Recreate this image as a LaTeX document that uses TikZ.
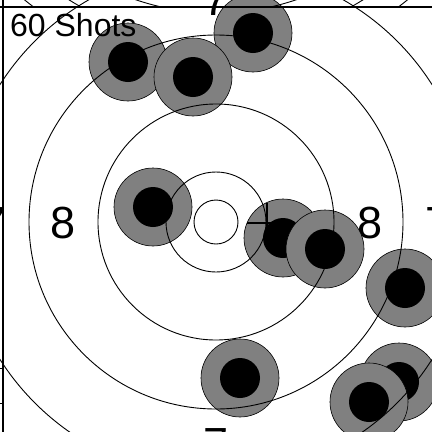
\documentclass[tikz,border=0pt]{standalone}
\usepackage{fontspec}
\setmainfont{Liberation Sans}
\tikzset{
  ring/.style={draw=black, line width=0.9pt},
  shotmark/.style={fill=gray, draw=black, line width=0.6pt},
  shotcore/.style={fill=black},
  ringnum/.style={inner sep=0pt, font=\fontsize{45}{54}\selectfont},
  frameline/.style={line width=1.5pt},
}
\begin{document}
\begin{tikzpicture}[x=1pt, y=-1pt]
\useasboundingbox (0,0) rectangle (432,432);
\clip (0,0) rectangle (432,432);
\fill[white] (0,0) rectangle (432,432);
% ring numbers, under the shots
\node[ringnum] (num8l) at (63,223) {8};
\node[ringnum] (num8r) at (370,223) {8};
\node[ringnum] (num7t) at (216,0) {7};
\node[ringnum] (num7b) at (216,444) {7};
\node[ringnum] (num7l) at (-6,223) {7};
\node[ringnum] (num7r) at (438,223) {7};
% shots
\foreach \sx/\sy in {128/62, 253/33, 193/77, 153/207, 283/238} {
  \filldraw[shotmark] (\sx,\sy) circle (39);
  \fill[shotcore] (\sx,\sy) circle (20);
}
% centre of the group
\draw[line width=1.5pt] (247,223) -- (287,223) (267,203) -- (267,243);
\foreach \sx/\sy in {325/249, 405/288, 240/378, 399/382, 369/402} {
  \filldraw[shotmark] (\sx,\sy) circle (39);
  \fill[shotcore] (\sx,\sy) circle (20);
}
\node[inner sep=0pt, anchor=base west, font=\fontsize{32}{38}\selectfont] (title) at (10,36) {60 Shots};
% scoring rings
\foreach \r in {22,50,118,187,256}
  \draw[ring] (216,222) circle (\r);
% panel above
\begin{scope}
  \clip (0,0) rectangle (432,7);
  \foreach \r in {248,277,303}
    \draw[ring] (216,-235) circle (\r);
\end{scope}
% frame and ticks
\draw[ring] (0,368) -- (3,368) (0,403) -- (3,403);
\draw[frameline] (0,7) -- (432,7);
\draw[frameline] (3,0) -- (3,432);
\end{tikzpicture}
\end{document}
